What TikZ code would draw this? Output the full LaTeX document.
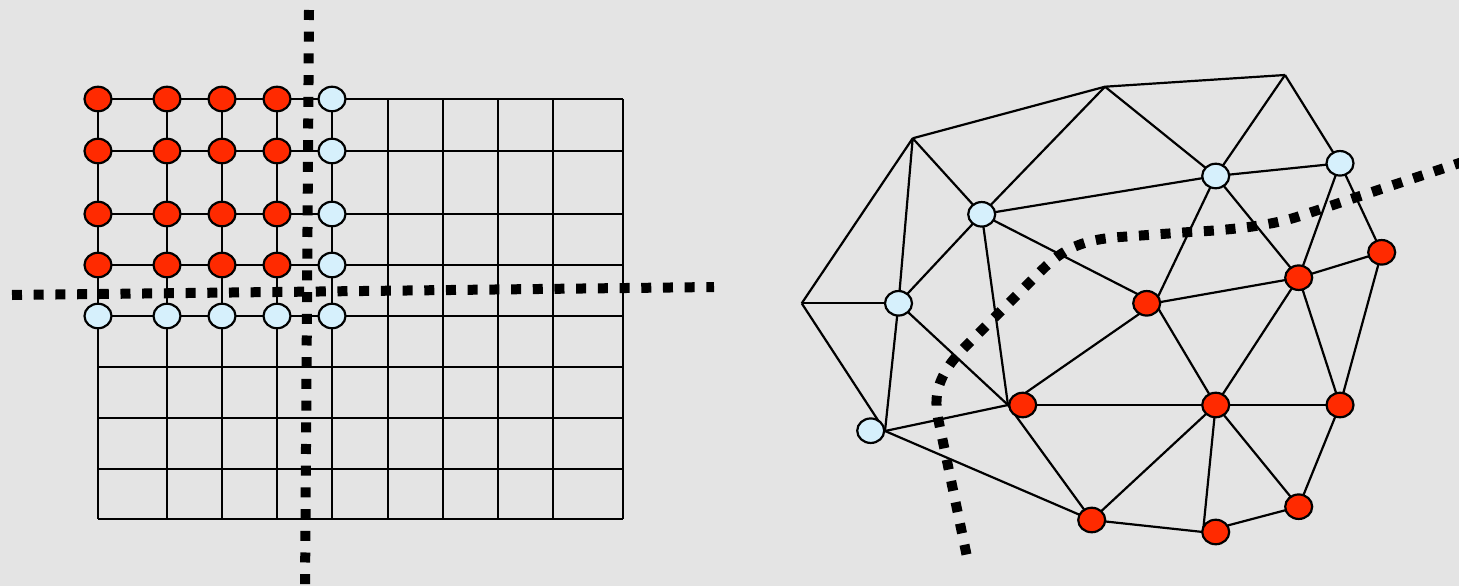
\documentclass[tikz,border=0pt]{standalone}
\usetikzlibrary{shapes.geometric}
\definecolor{bg}{HTML}{E4E4E4}
\definecolor{hot}{HTML}{FF2A00}
\definecolor{cold}{HTML}{D6F0FC}
\begin{document}
\begin{tikzpicture}[x=1pt,y=-1pt,
  edge/.style={line width=2.2pt, line join=round},
  vtx/.style={ellipse, draw=black, line width=2.2pt, minimum width=27pt, minimum height=24.5pt, inner sep=0pt},
  hotnode/.style={vtx, fill=hot},
  coldnode/.style={vtx, fill=cold},
  cut/.style={line width=10pt, dash pattern=on 10pt off 11.7pt}]
\fill[bg] (0,0) rectangle (1459,586);
\useasboundingbox (0,0) rectangle (1459,586);

% ---------- left: structured grid ----------
\foreach \x [count=\i] in {98,167,222,277,332,388,443,498,553,623}
  \foreach \y [count=\j] in {99,151,214,265,316,367,418,469,519}
    \coordinate (g\i-\j) at (\x,\y);
\foreach \j in {1,...,9} \draw[edge] (g1-\j) -- (g10-\j);
\foreach \i in {1,...,10} \draw[edge] (g\i-1) -- (g\i-9);
\foreach \i in {1,...,4} \foreach \j in {1,...,4}
  \node[hotnode] (h\i-\j) at (g\i-\j) {};
\foreach \j in {1,...,5} \node[coldnode] (c5-\j) at (g5-\j) {};
\foreach \i in {1,...,4} \node[coldnode] (c\i-5) at (g\i-5) {};

\coordinate (vtop) at (309,10);
\coordinate (vbot) at (305,592);
\coordinate (hlft) at (12,295);
\coordinate (hrgt) at (714,287);
\draw[cut] (vtop) -- (vbot);
\draw[cut] (hlft) -- (hrgt);

% ---------- right: unstructured mesh ----------
\coordinate (A) at (801.7,303.3);
\coordinate (B) at (912.7,138.3);
\coordinate (C) at (1105,86.7);
\coordinate (F) at (1285,75);
\coordinate (D) at (981.7,214.3);
\coordinate (E) at (898.5,303.3);
\coordinate (G) at (1215.7,176);
\coordinate (H) at (1340,163.3);
\coordinate (L) at (885,431);
\coordinate (I) at (1381.7,252.3);
\coordinate (J) at (1298.7,277.7);
\coordinate (K) at (1155,303);
\coordinate (M) at (1008,405);
\coordinate (N) at (1091.7,520);
\coordinate (O) at (1215.7,405);
\coordinate (P) at (1340,405);
\coordinate (Q) at (1298.7,506.7);
\coordinate (R) at (1203,532);

\foreach \a/\b in {B/C,C/F,A/B,A/E,A/L,B/E,B/D,C/D,C/G,F/G,F/H,G/H,D/G,D/E,D/K,D/M,
  E/M,E/L,L/M,L/N,M/N,M/K,M/O,K/G,K/J,K/O,G/J,H/J,H/I,I/J,J/O,J/P,I/P,O/P,O/N,O/R,
  O/Q,N/R,R/Q,Q/P}
  \draw[edge] (\a) -- (\b);

\node[coldnode] (nD) at (D) {};
\node[coldnode] (nE) at (E) {};
\node[coldnode] (nG) at (G) {};
\node[coldnode] (nH) at (H) {};
\node[coldnode] (nL) at (870.7,430.7) {};
\node[hotnode] (nI) at (I) {};
\node[hotnode] (nJ) at (J) {};
\node[hotnode] (nK) at (1146.7,303.3) {};
\node[hotnode] (nM) at (1022.7,405) {};
\node[hotnode] (nN) at (N) {};
\node[hotnode] (nO) at (O) {};
\node[hotnode] (nP) at (P) {};
\node[hotnode] (nQ) at (Q) {};
\node[hotnode] (nR) at (1215.7,532) {};

\coordinate (cs) at (1464,161.5);
\coordinate (ce) at (967,557);
\draw[cut] (cs) -- (1300,216) .. controls (1270,226) and (1230,230) .. (1190,232)
  -- (1120,237) .. controls (1075,240) and (1058,254) .. (1040,272)
  -- (965,347) .. controls (936,376) and (934,397) .. (938,418) -- (ce);
\end{tikzpicture}
\end{document}
